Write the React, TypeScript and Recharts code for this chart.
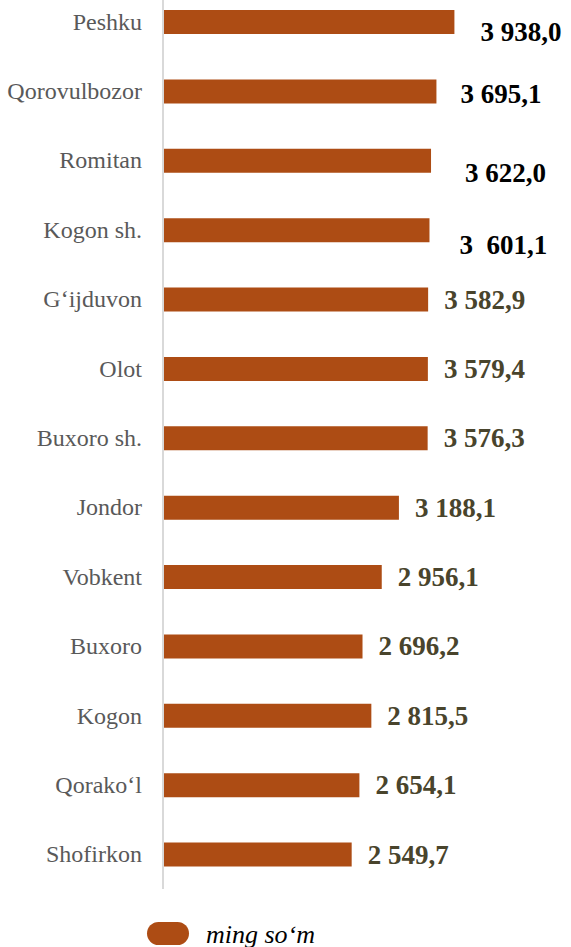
import React from "react";
import { BarChart, Bar, XAxis, YAxis, Legend, LabelList } from "recharts";

// Districts of Bukhara region and average wage values (ming so'm)
const districts = [
  "Peshku",
  "Qorovulbozor",
  "Romitan",
  "Kogon sh.",
  "G\u2018ijduvon",
  "Olot",
  "Buxoro sh.",
  "Jondor",
  "Vobkent",
  "Buxoro",
  "Kogon",
  "Qorako\u2018l",
  "Shofirkon",
];

const wages = [
  3938.0, 3695.1, 3622.0, 3601.1, 3582.9, 3579.4, 3576.3, 3188.1, 2956.1, 2696.2,
  2815.5, 2654.1, 2549.7,
];

const valueTexts = [
  "3 938,0",
  "3 695,1",
  "3 622,0",
  "3  601,1",
  "3 582,9",
  "3 579,4",
  "3 576,3",
  "3 188,1",
  "2 956,1",
  "2 696,2",
  "2 815,5",
  "2 654,1",
  "2 549,7",
];

const seriesName = "ming so\u2018m";

const rows = districts.map((name, i) => ({ name, value: wages[i], text: valueTexts[i] }));

const BAR_COLOR = "#AD4C14";
const SERIF = "Liberation Serif";

// The top rows' labels sit a little off the bar line, in black
const topLabelShift: Record<number, [number, number]> = {
  0: [26, 10],
  1: [24, 3],
  2: [34, 12],
  3: [30, 15],
};

const ValueLabel = (props: any) => {
  const { x, y, width, height, index } = props;
  const shift = topLabelShift[index];
  const dx = shift ? shift[0] : 16;
  const dy = shift ? shift[1] : 0;
  return (
    <text
      x={x + width + dx}
      y={y + height / 2 + dy}
      dominantBaseline="central"
      fontWeight="bold"
      fontSize={27}
      fill={shift ? "#000000" : "#49442C"}
      style={{ whiteSpace: "pre", fontFamily: SERIF }}
    >
      {rows[index].text}
    </text>
  );
};

const CategoryTick = (props: any) => {
  const { x, y, payload } = props;
  return (
    <text
      x={x}
      y={y}
      textAnchor="end"
      dominantBaseline="central"
      fontSize={24}
      fill="#595959"
      style={{ fontFamily: SERIF }}
    >
      {payload.value}
    </text>
  );
};

const LegendContent = () => (
  <div style={{ position: "relative", height: 60 }}>
    <svg width={571} height={60} style={{ display: "block" }}>
      <rect x={147} y={33} width={42} height={23} rx={11.5} ry={11.5} fill={BAR_COLOR} />
      <text
        x={206}
        y={54}
        fontStyle="italic"
        fontSize={26}
        fill="#000000"
        style={{ fontFamily: SERIF }}
      >
        {seriesName}
      </text>
    </svg>
  </div>
);

export default function App() {
  return (
    <div
      style={{
        position: "absolute",
        left: 0,
        top: 0,
        width: 571,
        height: 947,
        overflow: "hidden",
        background: "#ffffff",
      }}
    >
      <div style={{ position: "absolute", left: 0, top: -13 }}>
        <BarChart
          width={571}
          height={962}
          data={rows}
          layout="vertical"
          margin={{ top: 0, right: 75, bottom: 0, left: 0 }}
          barCategoryGap={0}
        >
          <XAxis type="number" domain={[0, 4500]} hide />
          <YAxis
            type="category"
            dataKey="name"
            width={163}
            interval={0}
            tickSize={0}
            tickMargin={21}
            axisLine={{ stroke: "#D9D9D9", strokeWidth: 2 }}
            tick={<CategoryTick />}
          />
          <Legend
            verticalAlign="bottom"
            align="left"
            height={60}
            content={<LegendContent />}
            wrapperStyle={{ left: 0, width: 571 }}
          />
          <Bar
            dataKey="value"
            name={seriesName}
            fill={BAR_COLOR}
            barSize={24}
            isAnimationActive={false}
          >
            <LabelList dataKey="value" content={<ValueLabel />} />
          </Bar>
        </BarChart>
      </div>
    </div>
  );
}
